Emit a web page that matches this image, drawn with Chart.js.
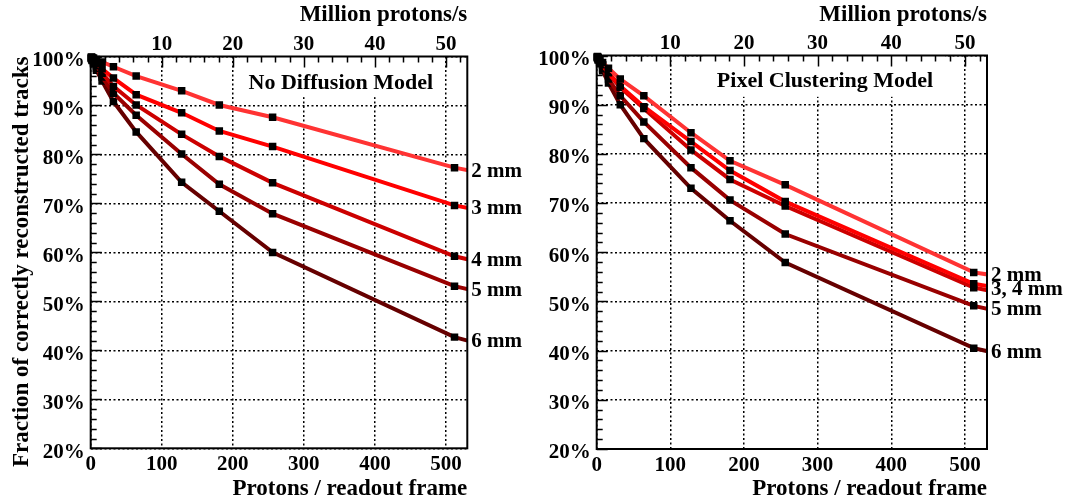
<!DOCTYPE html>
<html><head><meta charset="utf-8">
<script src="https://cdn.jsdelivr.net/npm/chart.js@4"></script>
<style>
html,body{margin:0;padding:0;background:#fff;width:1067px;height:504px;overflow:hidden}
#wrapL{position:absolute;left:0;top:0;width:526px;height:504px}
#wrapR{position:absolute;left:526px;top:0;width:541px;height:504px}
</style></head><body>
<div id="wrapL"><canvas id="cL"></canvas></div>
<div id="wrapR"><canvas id="cR"></canvas></div>
<script>
// ---- data ----
const protonsPerFrame = [1, 2, 4, 8, 16, 32, 64, 128, 181, 256, 512, 1024];
const seriesColors = ['#ff3333', '#ff0000', '#cc0000', '#990000', '#660000'];

const noDiff2mm = [99.9, 99.8, 99.7, 99.4, 98.9, 97.9, 96.0, 93.0, 90.1, 87.6, 77.3, 63.1];
const noDiff3mm = [99.8, 99.6, 99.3, 98.6, 97.5, 95.6, 92.2, 88.5, 84.8, 81.6, 69.6, 55.4];
const noDiff4mm = [99.7, 99.5, 99.0, 98.1, 96.6, 93.9, 90.1, 84.1, 79.6, 74.2, 59.2, 42.2];
const noDiff5mm = [99.6, 99.3, 98.7, 97.6, 95.8, 92.5, 88.0, 80.1, 73.9, 67.9, 53.1, 36.0];
const noDiff6mm = [99.6, 99.2, 98.5, 97.2, 95.0, 90.8, 84.6, 74.3, 68.4, 60.0, 42.7, 22.7];

const pixel2mm = [99.8, 99.6, 99.3, 98.6, 97.4, 95.2, 91.8, 84.3, 78.6, 73.7, 55.9, 44.5];
const pixel3mm = [99.7, 99.5, 99.0, 98.1, 96.5, 93.8, 89.6, 82.5, 76.6, 70.3, 53.6, 40.0];
const pixel4mm = [99.7, 99.4, 98.9, 98.0, 96.3, 93.5, 89.2, 80.8, 74.8, 69.4, 52.8, 38.6];
const pixel5mm = [99.6, 99.2, 98.6, 97.3, 95.2, 91.8, 86.5, 77.2, 70.6, 63.7, 49.1, 32.0];
const pixel6mm = [99.5, 99.1, 98.3, 96.9, 94.4, 90.0, 83.1, 73.0, 66.4, 57.9, 40.5, 23.5];

const leftEndLabels = [['2 mm', [0]], ['3 mm', [1]], ['4 mm', [2]], ['5 mm', [3]], ['6 mm', [4]]];
const rightEndLabels = [['2 mm', [0]], ['3, 4 mm', [1, 2]], ['5 mm', [3]], ['6 mm', [4]]];

const leftModelText = 'No Diffusion Model';
const rightModelText = 'Pixel Clustering Model';
const bottomTitle = 'Protons / readout frame';
const topTitle = 'Million protons/s';
const yTitle = 'Fraction of correctly reconstructed tracks';

// ---- rendering ----
const FONT = '"Liberation Serif","Times New Roman",Times,serif';
const tickFont = {family: FONT, size: 21, weight: 'bold'};
const titleFont = {family: FONT, size: 23, weight: 'bold'};

function makeDatasets(series) {
  return series.map((vals, i) => ({
    data: protonsPerFrame.map((x, k) => ({x: x, y: vals[k]})),
    borderColor: seriesColors[i],
    backgroundColor: seriesColors[i],
    borderWidth: 4,
    tension: 0,
    pointStyle: 'rect',
    pointRadius: 5.3,
    pointHoverRadius: 5.3,
    pointBackgroundColor: '#000',
    pointBorderColor: '#000',
    pointBorderWidth: 0,
    clip: {left: 8, top: 8, right: 0, bottom: 0},
    order: i
  }));
}

function panelPlugin(cfg) {
  return {
    id: 'panel' + cfg.id,
    beforeDatasetsDraw(chart) {
      const {ctx, scales: {x, y}} = chart;
      const x0 = x.getPixelForValue(cfg.box[0]), x1 = x.getPixelForValue(cfg.box[1]);
      const y0 = y.getPixelForValue(cfg.box[2]), y1 = y.getPixelForValue(cfg.box[3]);
      ctx.save();
      ctx.fillStyle = '#fff';
      ctx.fillRect(x0, y0, x1 - x0, y1 - y0);
      ctx.fillStyle = '#000';
      ctx.font = 'bold 22px ' + FONT;
      ctx.textAlign = 'center';
      ctx.textBaseline = 'middle';
      ctx.fillText(cfg.text, x.getPixelForValue(cfg.textPos[0]), y.getPixelForValue(cfg.textPos[1]));
      ctx.restore();
    },
    afterDraw(chart) {
      const {ctx, chartArea: a, scales: {x2, y}} = chart;
      ctx.save();
      // inward ticks on left axis and top axis
      ctx.strokeStyle = '#000';
      ctx.lineWidth = 1.5;
      ctx.beginPath();
      for (let v = y.min; v <= y.max + 1e-6; v += 2) {
        const py = Math.round(y.getPixelForValue(v)) + 0.5;
        const len = (Math.round(v) % 10 === 0) ? 11 : 6;
        ctx.moveTo(a.left, py); ctx.lineTo(a.left + len, py);
      }
      for (let v = 0; v <= x2.max + 1e-6; v += 2) {
        const px = Math.round(x2.getPixelForValue(v)) + 0.5;
        const len = (Math.round(v) % 10 === 0) ? 11 : 6;
        ctx.moveTo(px, a.top); ctx.lineTo(px, a.top + len);
      }
      ctx.stroke();
      // frame
      ctx.lineWidth = 2;
      ctx.strokeRect(a.left, a.top, a.right - a.left, a.bottom - a.top);
      // end labels
      ctx.fillStyle = '#000';
      ctx.font = 'bold 21px ' + FONT;
      ctx.textAlign = 'left';
      ctx.textBaseline = 'middle';
      cfg.labels.forEach(([txt, idxs]) => {
        let sum = 0;
        idxs.forEach(di => {
          const pts = chart.getDatasetMeta(di).data;
          let yy = pts[pts.length - 1].y;
          for (let k = 0; k < pts.length - 1; k++) {
            if (pts[k].x <= a.right && pts[k + 1].x >= a.right) {
              const t = (a.right - pts[k].x) / (pts[k + 1].x - pts[k].x);
              yy = pts[k].y + t * (pts[k + 1].y - pts[k].y);
              break;
            }
          }
          sum += yy;
        });
        ctx.fillText(txt, a.right + 4, sum / idxs.length + 1);
      });
      ctx.restore();
    }
  };
}

function makeChart(canvasId, series, opt) {
  return new Chart(document.getElementById(canvasId), {
    type: 'line',
    data: {datasets: makeDatasets(series)},
    options: {
      responsive: true,
      maintainAspectRatio: false,
      devicePixelRatio: 1,
      animation: false,
      events: [],
      layout: {padding: {left: 0, right: opt.padRight, top: 0, bottom: 0}},
      plugins: {legend: {display: false}, tooltip: {enabled: false}},
      scales: {
        x: {
          type: 'linear', position: 'bottom', min: 0, max: 530,
          afterFit: s => { s.height = opt.bottomH; },
          ticks: {stepSize: 100, includeBounds: false, font: tickFont, color: '#000', padding: 4, maxRotation: 0, autoSkip: false},
          grid: {color: '#000', lineWidth: 1.5, drawTicks: false},
          border: {display: false, dash: [2, 2.5]},
          title: {display: true, text: bottomTitle, align: 'end', font: titleFont, color: '#000', padding: {top: 0, bottom: 1}}
        },
        x2: {
          type: 'linear', position: 'top', min: 0, max: 53,
          afterFit: s => { s.height = opt.topH; },
          ticks: {stepSize: 10, includeBounds: false, font: tickFont, color: '#000', padding: -1, maxRotation: 0, autoSkip: false,
                  callback: v => (v === 0 ? null : String(v))},
          grid: {display: false, drawTicks: false},
          border: {display: false},
          title: {display: true, text: topTitle, align: 'end', font: titleFont, color: '#000', padding: {top: 1, bottom: 0}}
        },
        y: {
          type: 'linear', position: 'left', min: 20, max: 100,
          afterFit: s => { s.width = opt.leftW; },
          ticks: {stepSize: 10, font: tickFont, color: '#000', padding: 6, labelOffset: 4, callback: v => v + '%'},
          grid: {color: '#000', lineWidth: 1.5, drawTicks: false},
          border: {display: false, dash: [2, 2.5]},
          title: {display: opt.showYTitle, text: yTitle, align: 'end', font: titleFont, color: '#000', padding: {top: 8, bottom: 0}}
        }
      }
    },
    plugins: [panelPlugin(opt.panel)]
  });
}

makeChart('cL', [noDiff2mm, noDiff3mm, noDiff4mm, noDiff5mm, noDiff6mm], {
  padRight: 58.7, bottomH: 55.7, topH: 56.5, leftW: 90.7, showYTitle: true,
  panel: {id: 'L', text: leftModelText, box: [210, 497, 100, 91.7], textPos: [352, 94.6], labels: leftEndLabels}
});
makeChart('cR', [pixel2mm, pixel3mm, pixel4mm, pixel5mm, pixel6mm], {
  padRight: 80, bottomH: 55, topH: 55.5, leftW: 70.7, showYTitle: false,
  panel: {id: 'R', text: rightModelText, box: [147, 473, 100, 91.6], textPos: [310, 94.8], labels: rightEndLabels}
});
</script>
</body></html>
